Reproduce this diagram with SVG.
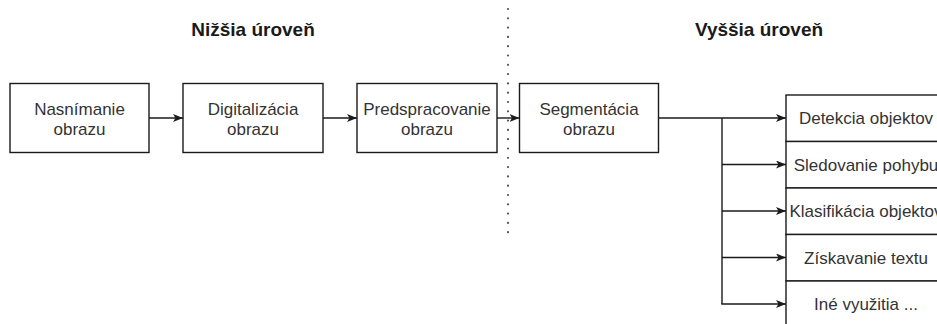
<svg xmlns="http://www.w3.org/2000/svg" width="937" height="324" viewBox="0 0 937 324">
  <style>
    .box { fill: #ffffff; stroke: #1a1a1a; stroke-width: 1.4; }
    .lbl { font-family: "Liberation Sans", Arial, sans-serif; font-size: 17px; fill: #333333; text-anchor: middle; }
    .title { font-family: "Liberation Sans", Arial, sans-serif; font-size: 19px; font-weight: bold; fill: #1a1a1a; text-anchor: middle; }
    .edge { fill: none; stroke: #1a1a1a; stroke-width: 1.4; }
    .sep { fill: none; stroke: #555555; stroke-width: 2.2; stroke-dasharray: 0 9.3; stroke-linecap: round; }
  </style>
  <defs>
    <marker id="arrow" viewBox="0 0 10 8" refX="10" refY="4" markerWidth="10" markerHeight="8" markerUnits="userSpaceOnUse" orient="auto">
      <path d="M0,0 L10,4 L0,8 L2.5,4 Z" fill="#1a1a1a"/>
    </marker>
  </defs>

  <rect width="937" height="324" fill="#ffffff"/>

  <!-- level headings -->
  <text class="title" x="253" y="36">Nižšia úroveň</text>
  <text class="title" x="759" y="36">Vyššia úroveň</text>

  <!-- boundary between levels -->
  <line class="sep" x1="508" y1="9" x2="508" y2="234"/>

  <!-- processing chain -->
  <g id="nasnimanie">
    <rect class="box" x="10" y="83.5" width="139" height="69"/>
    <text class="lbl" x="79.5" y="115">Nasnímanie</text>
    <text class="lbl" x="79.5" y="135">obrazu</text>
  </g>
  <g id="digitalizacia">
    <rect class="box" x="183" y="83.5" width="140" height="69"/>
    <text class="lbl" x="253" y="115">Digitalizácia</text>
    <text class="lbl" x="253" y="135">obrazu</text>
  </g>
  <g id="predspracovanie">
    <rect class="box" x="357" y="83.5" width="140" height="69"/>
    <text class="lbl" x="427" y="115">Predspracovanie</text>
    <text class="lbl" x="427" y="135">obrazu</text>
  </g>
  <g id="segmentacia">
    <rect class="box" x="519.5" y="83.5" width="139" height="69"/>
    <text class="lbl" x="589" y="115">Segmentácia</text>
    <text class="lbl" x="589" y="135">obrazu</text>
  </g>

  <!-- applications stack -->
  <g id="detekcia">
    <rect class="box" x="786" y="95" width="160" height="46.5"/>
    <text class="lbl" x="866" y="124">Detekcia objektov</text>
  </g>
  <g id="sledovanie">
    <rect class="box" x="786" y="141.5" width="160" height="46.5"/>
    <text class="lbl" x="866" y="170.5">Sledovanie pohybu</text>
  </g>
  <g id="klasifikacia">
    <rect class="box" x="786" y="188" width="160" height="46.5"/>
    <text class="lbl" x="866" y="217">Klasifikácia objektov</text>
  </g>
  <g id="ziskavanie">
    <rect class="box" x="786" y="234.5" width="160" height="46.5"/>
    <text class="lbl" x="866" y="263.5">Získavanie textu</text>
  </g>
  <g id="ine">
    <rect class="box" x="786" y="281" width="160" height="46.5"/>
    <text class="lbl" x="866" y="310">Iné využitia ...</text>
  </g>

  <!-- connectors -->
  <g id="connectors">
    <line class="edge" x1="149" y1="118" x2="183" y2="118" marker-end="url(#arrow)"/>
    <line class="edge" x1="323" y1="118" x2="357" y2="118" marker-end="url(#arrow)"/>
    <line class="edge" x1="497" y1="118" x2="519.5" y2="118" marker-end="url(#arrow)"/>
    <line class="edge" x1="658.5" y1="118" x2="786" y2="118" marker-end="url(#arrow)"/>
    <polyline class="edge" points="722,118 722,304"/>
    <line class="edge" x1="722" y1="164.5" x2="786" y2="164.5" marker-end="url(#arrow)"/>
    <line class="edge" x1="722" y1="211" x2="786" y2="211" marker-end="url(#arrow)"/>
    <line class="edge" x1="722" y1="257.5" x2="786" y2="257.5" marker-end="url(#arrow)"/>
    <line class="edge" x1="721.3" y1="304" x2="786" y2="304" marker-end="url(#arrow)"/>
  </g>
</svg>
